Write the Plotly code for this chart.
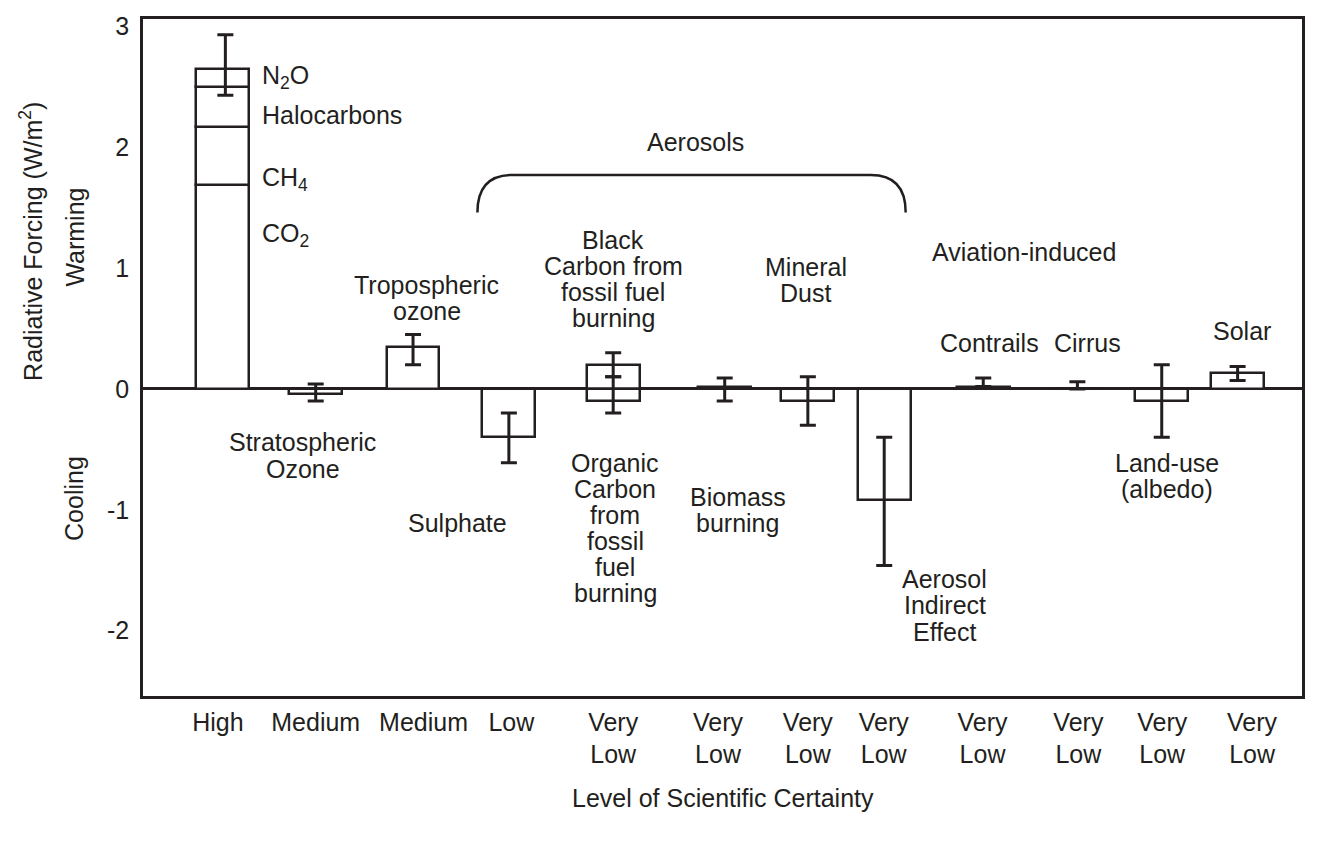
import plotly.graph_objects as go

# ---------------- data ----------------
# Well-mixed greenhouse gas stack (W/m2)
ghg_names = ["CO2", "CH4", "Halocarbons", "N2O"]
ghg_values = [1.69, 0.475, 0.335, 0.145]
ghg_err_low = 2.43
ghg_err_high = 2.93

# Other forcings (W/m2)
names = ["Stratospheric Ozone", "Tropospheric ozone", "Sulphate",
         "Black Carbon", "Organic Carbon", "Biomass burning", "Mineral Dust",
         "Aerosol Indirect Effect", "Contrails", "Cirrus", "Land-use", "Solar"]
values = [-0.04, 0.35, -0.40, 0.20, -0.10, 0.02, -0.10, -0.92, 0.02, 0.0, -0.10, 0.135]
err_high = [0.04, 0.45, -0.20, 0.30, 0.10, 0.09, 0.10, -0.40, 0.09, 0.06, 0.20, 0.185]
err_low = [-0.10, 0.20, -0.61, 0.10, -0.20, -0.10, -0.30, -1.46, 0.02, 0.0, -0.40, 0.07]

# certainty tick labels
certainty = ["High", "Medium", "Medium", "Low", "Very<br>Low", "Very<br>Low", "Very<br>Low",
             "Very<br>Low", "Very<br>Low", "Very<br>Low", "Very<br>Low", "Very<br>Low"]

# ---------------- positions (horizontal layout units) ----------------
ghg_x = 221.5
bar_x = [315, 412.5, 508.5, 613, 613, 724.7, 808, 884.5, 983.7, 1078, 1162.5, 1238.5]
tick_x = [217, 315, 423, 511, 613, 718, 808, 884, 983, 1079, 1163, 1253]
BAR_W = 53

INK = "#231f20"
FONT = "Liberation Sans, Arial, Helvetica, sans-serif"
FS = 25
LINE = 0.2165   # line spacing of multi-line labels, in axis units

fig = go.Figure()

# GHG stacked column
base = 0.0
for n, v in zip(ghg_names, ghg_values):
    fig.add_trace(go.Bar(x=[ghg_x], y=[v], base=[base], width=BAR_W, name=n,
                         marker=dict(color="white", line=dict(color=INK, width=2.5)),
                         showlegend=False, hoverinfo="skip"))
    base += v
ghg_total = base
fig.add_trace(go.Scatter(x=[ghg_x + 3], y=[ghg_total], mode="markers",
                         marker=dict(size=1, color="rgba(0,0,0,0)"),
                         error_y=dict(type="data", symmetric=False,
                                      array=[ghg_err_high - ghg_total],
                                      arrayminus=[ghg_total - ghg_err_low],
                                      color=INK, thickness=3, width=8),
                         showlegend=False, hoverinfo="skip"))

# other forcings
fig.add_trace(go.Bar(x=bar_x, y=values, width=BAR_W,
                     marker=dict(color="white", line=dict(color=INK, width=2.5)),
                     error_y=dict(type="data", symmetric=False,
                                  array=[h - v for h, v in zip(err_high, values)],
                                  arrayminus=[v - l for v, l in zip(values, err_low)],
                                  color=INK, thickness=3, width=8),
                     showlegend=False, hoverinfo="skip"))

# ---------------- annotations ----------------
def note(text, x, y, xanchor="center"):
    lines = text.split("\n")
    n = len(lines)
    for i, ln in enumerate(lines):
        yy = y + ((n - 1) / 2 - i) * LINE
        fig.add_annotation(text=ln, x=x, y=yy, xref="x", yref="y", showarrow=False,
                           xanchor=xanchor, yanchor="middle", align="center",
                           font=dict(family=FONT, size=FS, color=INK))

note("N<sub>2</sub>O", 259, 2.58, xanchor="left")
note("Halocarbons", 259, 2.27, xanchor="left")
note("CH<sub>4</sub>", 259, 1.74, xanchor="left")
note("CO<sub>2</sub>", 259, 1.27, xanchor="left")
note("Tropospheric\nozone", 426, 0.75)
note("Stratospheric\nOzone", 302, -0.55)
note("Aerosols", 695, 2.04)
note("Black\nCarbon from\nfossil fuel\nburning", 613, 0.91)
note("Mineral\nDust", 806, 0.90)
note("Aviation-induced", 1025, 1.13)
note("Contrails", 990, 0.38)
note("Cirrus", 1088, 0.38)
note("Solar", 1243, 0.48)
note("Sulphate", 457, -1.11)
note("Organic\nCarbon\nfrom\nfossil\nfuel\nburning", 615, -1.15)
note("Biomass\nburning", 738, -1.00)
note("Aerosol\nIndirect\nEffect", 945, -1.79)
note("Land-use\n(albedo)", 1168, -0.72)

# axis-side labels
for txt, x, y in [("Radiative Forcing (W/m<sup>2</sup>)", -0.0965, 0.671),
                  ("Warming", -0.059, 0.678), ("Cooling", -0.059, 0.292)]:
    fig.add_annotation(text=txt, x=x, y=y, xref="paper", yref="paper", showarrow=False,
                       textangle=-90, xanchor="center", yanchor="middle",
                       font=dict(family=FONT, size=FS, color=INK))
fig.add_annotation(text="Level of Scientific Certainty", x=(723 - 142) / 1161, y=-0.151,
                   xref="paper", yref="paper", showarrow=False, xanchor="center",
                   yanchor="middle", font=dict(family=FONT, size=FS, color=INK))

# Aerosols bracket
fig.add_shape(type="path", xref="x", yref="y",
              path="M 477,1.46 Q 477,1.77 512,1.77 L 871,1.77 Q 906,1.77 906,1.46",
              line=dict(color=INK, width=2.5))

# page body adds a small offset; compensate so the plot frame sits where the reference has it
fig.update_layout(
    width=1306, height=830,
    margin=dict(l=135, r=12, t=4, b=142),
    paper_bgcolor="white", plot_bgcolor="white",
    barmode="overlay", bargap=0,
    font=dict(family=FONT, size=FS, color=INK),
    xaxis=dict(range=[142, 1303], tickmode="array", tickvals=tick_x, ticktext=certainty,
               showgrid=False, zeroline=False, showline=True, mirror=True,
               linecolor=INK, linewidth=2.5, ticks="", ticklabelstandoff=2,
               tickfont=dict(family=FONT, size=FS, color=INK)),
    yaxis=dict(range=[-2.54, 3.06], tickvals=[-2, -1, 0, 1, 2, 3],
               ticktext=["-2", "-1", "0", "1", "2", "3"],
               showgrid=False, zeroline=True, zerolinecolor=INK, zerolinewidth=3,
               showline=True, mirror=True, linecolor=INK, linewidth=2.5,
               ticks="", ticklabelstandoff=6,
               tickfont=dict(family=FONT, size=FS, color=INK)),
)

fig.write_html("out.html")
